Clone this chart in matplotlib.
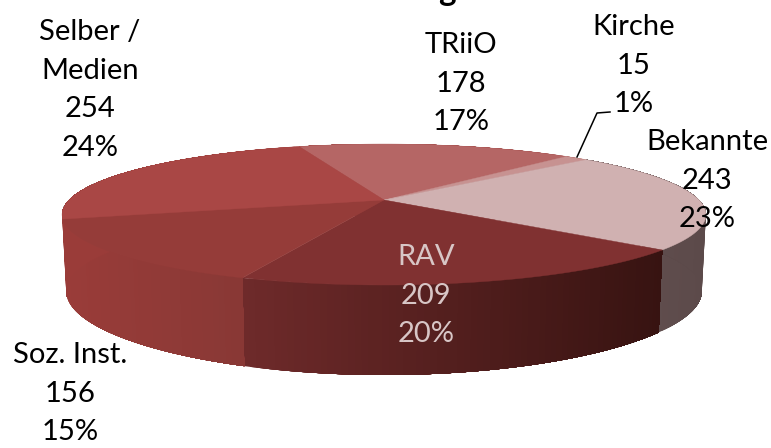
import numpy as np
import matplotlib
matplotlib.use("Agg")
import matplotlib.pyplot as plt
from matplotlib.colors import to_rgb

categories = ["TRiiO", "Kirche", "Bekannte", "RAV", "Soz. Inst.", "Selber /\nMedien"]
values = [178, 15, 243, 209, 156, 254]

top_colors = ["#B56665", "#C79291", "#D0B1B1", "#803131", "#953C39", "#A94745"]
side_left = ["#A04644", "#A04644", "#645151", "#6E2A2A", "#9A3C39", "#9A3C39"]
side_right = ["#A04644", "#A04644", "#5C4A4A", "#371311", "#883835", "#9A3C39"]
label_colors = ["black", "black", "black", "#D8C6C6", "black", "black"]
label_x = [461, 634, 707, 426, 70, 90]
label_y = [45, 27, 142, 257, 355, 32]

START = 108.8
CX, CY = 384.0, 200.0


def top_xy(theta):
    u, v = np.cos(theta), np.sin(theta)
    d = 1 + 0.206 * v
    return CX + 315 * u / d, CY - 67.5 * v / d


def bottom_xy(theta):
    u, v = np.cos(theta), np.sin(theta)
    return (CX + 311 * u / (1 + 0.206 * v),
            CY + 75 - 75 * v / (1 + 0.25 * v))


fig = plt.figure(figsize=(7.71, 4.48), dpi=100)
ax = fig.add_axes([0, 0, 1, 1])
ax.set_xlim(0, 771)
ax.set_ylim(448, 0)
ax.axis("off")

total = sum(values)
sweeps = np.array(values) / total * 360
edges = START - np.concatenate([[0], np.cumsum(sweeps)])

# Cylinder wall, painted as overlapping shaded strips from one slice side to the other
for i in range(len(values)):
    a0, a1 = np.radians(edges[i + 1]), np.radians(edges[i])
    n = max(int(edges[i] - edges[i + 1]), 2)
    th = np.linspace(a0, a1, 40 * n + 1)
    xt, yt = top_xy(th)
    xb, yb = bottom_xy(th)
    xs_mid = (xt[:-1] + xt[1:]) / 2
    lo, hi = xs_mid.min(), xs_mid.max()
    c0, c1 = np.array(to_rgb(side_left[i])), np.array(to_rgb(side_right[i]))
    for j in range(n):
        s0, s1 = j * 40, 40 * n
        f = (xs_mid[s0] - lo) / max(hi - lo, 1e-6)
        col = c0 + (c1 - c0) * f
        ax.fill(np.r_[xt[s0:s1 + 1], xb[s0:s1 + 1][::-1]],
                np.r_[yt[s0:s1 + 1], yb[s0:s1 + 1][::-1]],
                color=col, lw=0, zorder=2)

# Top disc
for i in range(len(values)):
    th = np.radians(np.linspace(edges[i + 1], edges[i], 200))
    x, y = top_xy(th)
    ax.fill(np.r_[CX, x], np.r_[CY, y], color=top_colors[i], lw=0.3, zorder=3)

# Clipped chart title: only the descender falls inside the picture
ax.text(447, -9, "g", ha="center", va="center", fontsize=24,
        fontweight="bold", family="Lato", color="black", zorder=5)

# Data labels
LINE = 38.7
for i, name in enumerate(categories):
    pct = f"{values[i] / total * 100:.0f}%"
    lines = name.split("\n") + [str(values[i]), pct]
    for k, s in enumerate(lines):
        ax.text(label_x[i], label_y[i] + k * LINE, s, ha="center", va="center",
                fontsize=21, family="Lato", color=label_colors[i], zorder=6)

# Leader line of the small slice
ax.plot([577, 597, 610], [157, 113, 112], color="black", lw=1.1, zorder=6)

fig.savefig("out.png", dpi=100)
